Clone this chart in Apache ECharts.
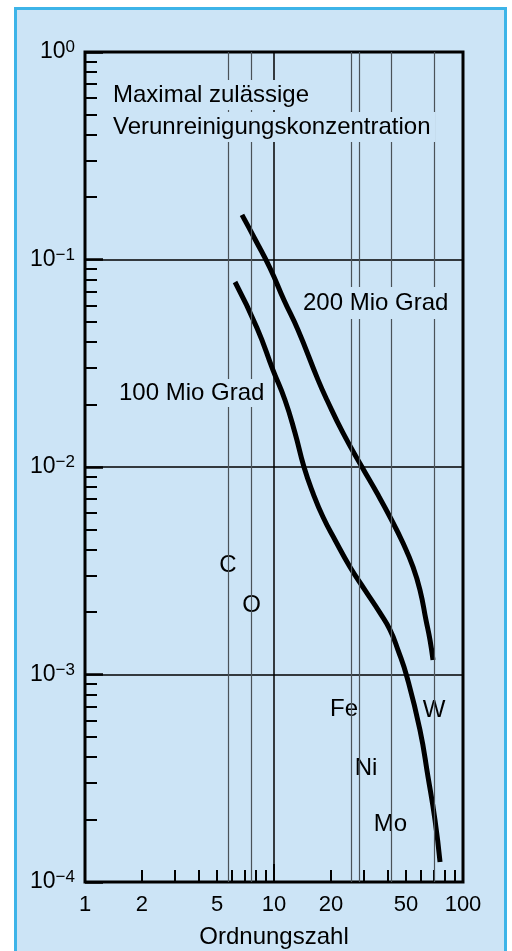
<!DOCTYPE html>
<html>
<head>
<meta charset="utf-8">
<script src="https://cdn.jsdelivr.net/npm/echarts@6/dist/echarts.min.js"></script>
<style>
html,body{margin:0;padding:0;background:#fff;}
#frame{position:absolute;left:14px;top:7px;width:493px;height:960px;box-sizing:border-box;background:#cce4f6;border:3px solid #3db4e8;border-bottom:none;}
#main{position:absolute;left:0;top:0;width:512px;height:951px;}
</style>
</head>
<body>
<div id="frame"></div>
<div id="main"></div>
<script>
// Kurven: Ordnungszahl / max. Konzentration
var z200 = [6.77, 8.03, 9.52, 11.29, 13.40, 17.1, 19.07, 23.18, 29.21, 35.07, 41.10, 48.14, 54.38, 59.22, 63.7, 66.90, 69.4];
var c200 = [0.164, 0.1228, 0.0910, 0.0638, 0.0457, 0.0263, 0.02103, 0.01459, 0.0100, 0.00749, 0.00574, 0.00430, 0.00330, 0.00255, 0.00183, 0.001466, 0.001175];
var z100 = [6.22, 8.13, 9.88, 11.43, 12.92, 14.41, 16.08, 18.17, 21.03, 25.24, 30.30, 36.38, 41.10, 45.31, 50.53, 59.2, 65.3, 71.1, 75.6];
var c100 = [0.0779, 0.0468, 0.0293, 0.02103, 0.01459, 0.0100, 0.00749, 0.00574, 0.00445, 0.00330, 0.00255, 0.00198, 0.00164, 0.00131, 0.000973, 0.000540, 0.000321, 0.000199, 0.000125];
// Elemente
var elemNames = ['C', 'O', 'Fe', 'Ni', 'Mo', 'W'];
var elemZ = [5.7, 7.6, 25.9, 28.5, 41.3, 70.2];
var elemLabelY = [0.00337, 0.00216, 0.000682, 0.000354, 0.000190, 0.000674];
// Achsen
var xTickLabels = [1, 2, 5, 10, 20, 50, 100];
var xMinorTicks = [2, 3, 4, 5, 6, 7, 8, 9, 20, 30, 40, 50, 60, 70, 80, 90];
var yDecades = [1e-4, 1e-3, 1e-2, 1e-1];
var yMinorSteps = [2, 3, 4, 5, 6, 7, 8, 9];

var labelShift = {Fe: -8, Ni: 6};
var bg = '#cce4f6';
var font = 'Liberation Sans, Arial, Helvetica, sans-serif';

window.onload = function () {
	var myChart = echarts.init(document.getElementById('main'));
	var lg = Math.log10;

	var yMinor = [];
	yDecades.forEach(function (d) {
		yMinorSteps.forEach(function (s) { yMinor.push(lg(d * s)); });
	});

	function pairs(xs, ys) {
		return xs.map(function (x, i) { return [lg(x), lg(ys[i])]; });
	}

	var tickStyle = {color: '#000', width: 2};
	var gridBox = {left: 85, right: 49, top: 52, bottom: 69, outerBoundsMode: 'none'};
	var option = {
		animation: false,
		textStyle: {fontFamily: font},
		grid: [
			Object.assign({show: true, borderColor: '#000', borderWidth: 3, backgroundColor: 'transparent'}, gridBox),
			Object.assign({show: false}, gridBox)
		],
		xAxis: [{
			type: 'value', min: 0, max: 2, interval: 1, gridIndex: 0, position: 'bottom',
			name: 'Ordnungszahl', nameLocation: 'middle', nameGap: 43,
			nameTextStyle: {fontSize: 24, color: '#000', fontFamily: font},
			axisLine: {show: false, onZero: false},
			axisTick: {show: true, inside: true, length: 18, lineStyle: tickStyle},
			axisLabel: {
				customValues: xTickLabels.map(lg),
				fontSize: 22, color: '#000', margin: 12,
				formatter: function (v) { return String(Math.round(Math.pow(10, v))); }
			},
			splitLine: {show: true, lineStyle: {color: '#000', width: 1.5}}
		}, {
			type: 'value', min: 0, max: 2, gridIndex: 1, position: 'bottom',
			axisLine: {show: false, onZero: false},
			axisTick: {show: true, inside: true, length: 12, customValues: xMinorTicks.map(lg), lineStyle: tickStyle},
			axisLabel: {show: false},
			splitLine: {show: false}
		}],
		yAxis: [{
			type: 'value', min: -4, max: 0, interval: 1, gridIndex: 0, position: 'left',
			axisLine: {show: false, onZero: false},
			axisTick: {show: true, inside: true, length: 18, lineStyle: {color: '#000', width: 2.5}},
			axisLabel: {
				margin: 10, showMinLabel: true, showMaxLabel: true,
				formatter: function (v) { return '{b|10}{s|' + (v === 0 ? '0' : '\u2212' + (-v)) + '}'; },
				rich: {
					b: {fontSize: 23, color: '#000', fontFamily: font, lineHeight: 26},
					s: {fontSize: 17, color: '#000', fontFamily: font, verticalAlign: 'top', lineHeight: 17}
				}
			},
			splitLine: {show: true, lineStyle: {color: '#000', width: 1.5}}
		}, {
			type: 'value', min: -4, max: 0, gridIndex: 0, position: 'left',
			axisLine: {show: false, onZero: false},
			axisTick: {show: true, inside: true, length: 12, customValues: yMinor, lineStyle: tickStyle},
			axisLabel: {show: false},
			splitLine: {show: false}
		}, {
			type: 'value', min: -4, max: 0, gridIndex: 1, show: false
		}],
		graphic: [
			{type: 'text', left: 108, top: 80, z: 10, style: {text: 'Maximal zulässige', font: '24px ' + font, fill: '#000', backgroundColor: bg, padding: [3, 5]}},
			{type: 'text', left: 108, top: 112, z: 10, style: {text: 'Verunreinigungskonzentration', font: '24px ' + font, fill: '#000', backgroundColor: bg, padding: [3, 5]}},
			{type: 'text', left: 298, top: 287, z: 10, style: {text: '200 Mio Grad', font: '24px ' + font, fill: '#000', backgroundColor: bg, padding: [4, 5]}},
			{type: 'text', left: 115, top: 379, z: 10, style: {text: '100 Mio Grad', font: '24px ' + font, fill: '#000', backgroundColor: bg, padding: [2, 4]}}
		],
		series: [{
			// Elementlinien
			type: 'line', data: [], z: 1, silent: true,
			markLine: {
				silent: true, symbol: ['none', 'none'], label: {show: false},
				lineStyle: {color: '#4a5258', width: 1.2, type: 'solid'},
				data: elemZ.map(function (z) { return {xAxis: lg(z)}; })
			}
		}, {
			// Elementnamen
			type: 'scatter', z: 3, symbol: 'circle', symbolSize: 0, itemStyle: {color: '#000'}, silent: true,
			data: elemZ.map(function (z, i) {
				return {
					value: [lg(z), lg(elemLabelY[i])], name: elemNames[i],
					label: {offset: [labelShift[elemNames[i]] || 0, 0]}
				};
			}),
			label: {
				show: true, position: 'inside', formatter: '{b}',
				fontSize: 24, color: '#000', opacity: 1, fontFamily: font,
				backgroundColor: bg, padding: [4, 2]
			}
		}, {
			name: '200 Mio Grad', type: 'line', z: 4,
			data: pairs(z200, c200), smooth: 0.5,
			showSymbol: false, lineStyle: {color: '#000', width: 5}
		}, {
			name: '100 Mio Grad', type: 'line', z: 4,
			data: pairs(z100, c100), smooth: 0.5,
			showSymbol: false, lineStyle: {color: '#000', width: 5}
		}]
	};
	myChart.setOption(option);
};
</script>
</body>
</html>
